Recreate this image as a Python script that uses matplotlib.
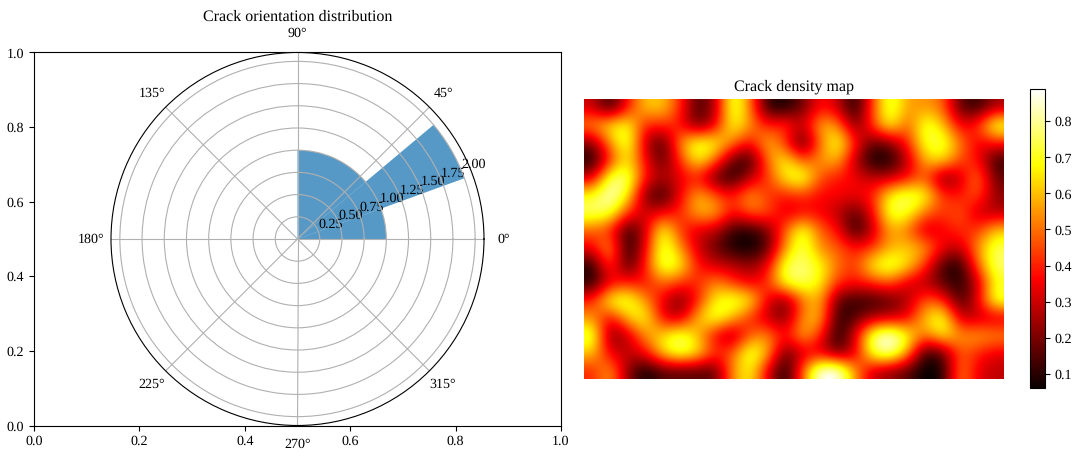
import numpy as np
import matplotlib
matplotlib.use('Agg')
import matplotlib.pyplot as plt

plt.rcParams['font.family'] = ['Liberation Serif', 'DejaVu Serif']
plt.rcParams['font.size'] = 10
plt.rcParams['text.hinting'] = 'no_hinting'
plt.rcParams['text.hinting_factor'] = 1

bin_edges_deg = [0, 20, 40, 90]
bin_counts = [1, 2, 1]

d00 = [.30,.08,.38,.62,.62,.42,.12,.25,.78,.52,.08,.07,.18,.38,.30,.05,.45,.78,.55,.55,.50,.15,.10,.25]
d01 = [.55,.68,.72,.38,.42,.38,.15,.32,.72,.55,.38,.45,.28,.60,.55,.17,.45,.72,.45,.76,.62,.33,.42,.78]
d02 = [.20,.55,.78,.28,.10,.55,.76,.70,.52,.35,.62,.42,.08,.50,.75,.40,.15,.20,.40,.72,.76,.52,.33,.38]
d03 = [.06,.40,.68,.36,.14,.42,.70,.50,.15,.08,.50,.70,.45,.55,.60,.26,.05,.06,.28,.60,.66,.45,.38,.10]
d04 = [.30,.78,.80,.38,.26,.33,.38,.14,.07,.28,.42,.68,.78,.45,.38,.35,.28,.28,.36,.48,.15,.28,.55,.17]
d05 = [.70,.88,.68,.18,.08,.35,.60,.48,.38,.58,.42,.38,.42,.36,.36,.35,.40,.70,.78,.72,.42,.38,.48,.22]
d06 = [.78,.75,.42,.30,.35,.40,.60,.60,.36,.50,.48,.30,.35,.35,.28,.14,.35,.76,.72,.50,.42,.48,.28,.26]
d07 = [.48,.40,.08,.28,.74,.42,.30,.28,.10,.07,.18,.48,.76,.48,.38,.07,.28,.58,.50,.26,.35,.42,.42,.62]
d08 = [.35,.60,.05,.33,.78,.55,.30,.17,.07,.05,.14,.55,.78,.52,.48,.38,.42,.58,.62,.58,.35,.28,.55,.76]
d09 = [.08,.48,.10,.40,.78,.70,.38,.30,.28,.22,.33,.76,.78,.70,.50,.42,.70,.78,.66,.42,.12,.06,.48,.78]
d10 = [.08,.33,.40,.36,.50,.42,.40,.55,.42,.33,.42,.74,.78,.68,.42,.38,.42,.48,.30,.26,.15,.08,.28,.70]
d11 = [.40,.74,.76,.55,.33,.17,.38,.68,.76,.70,.33,.17,.50,.60,.15,.10,.10,.15,.26,.48,.42,.10,.33,.76]
d12 = [.55,.33,.62,.72,.33,.26,.60,.76,.60,.40,.28,.18,.55,.62,.08,.15,.26,.28,.33,.62,.76,.28,.28,.28]
d13 = [.78,.17,.28,.55,.65,.78,.60,.33,.20,.48,.55,.36,.60,.42,.05,.33,.80,.92,.70,.50,.70,.55,.58,.55]
d14 = [.62,.33,.28,.36,.65,.78,.68,.42,.48,.78,.60,.15,.30,.30,.15,.30,.76,.86,.58,.08,.15,.48,.40,.33]
d15 = [.40,.58,.22,.05,.15,.15,.15,.15,.55,.70,.33,.04,.48,.92,.92,.55,.28,.22,.15,.04,.07,.55,.33,.28]
density = np.array([d00,d01,d02,d03,d04,d05,d06,d07,d08,d09,d10,d11,d12,d13,d14,d15])

W, H = 1080, 459
fig = plt.figure(figsize=(W/100, H/100), dpi=100)
rect = [34/W, 1-425.5/H, 527/W, 373/H]

ax0 = fig.add_axes(rect)
ax0.set_xlim(0, 1); ax0.set_ylim(0, 1)

ax = fig.add_axes(rect, projection='polar')
edges = np.deg2rad(bin_edges_deg)
ax.bar(edges[:-1], bin_counts, width=np.diff(edges), align='edge', alpha=0.75)
ax.set_title('Crack orientation distribution', fontsize=11.5, pad=4)

ax1 = fig.add_axes([584/W, 1-379/H, 420/W, 280/H])
im = ax1.imshow(density, cmap='hot', interpolation='bicubic', vmin=.06, vmax=.89)
ax1.set_title('Crack density map', fontsize=11.5, pad=6)
ax1.axis('off')

cax = fig.add_axes([1030/W, 1-388/H, 15/W, 299/H])
fig.colorbar(im, cax=cax)

fig.savefig('out.png', dpi=100)
